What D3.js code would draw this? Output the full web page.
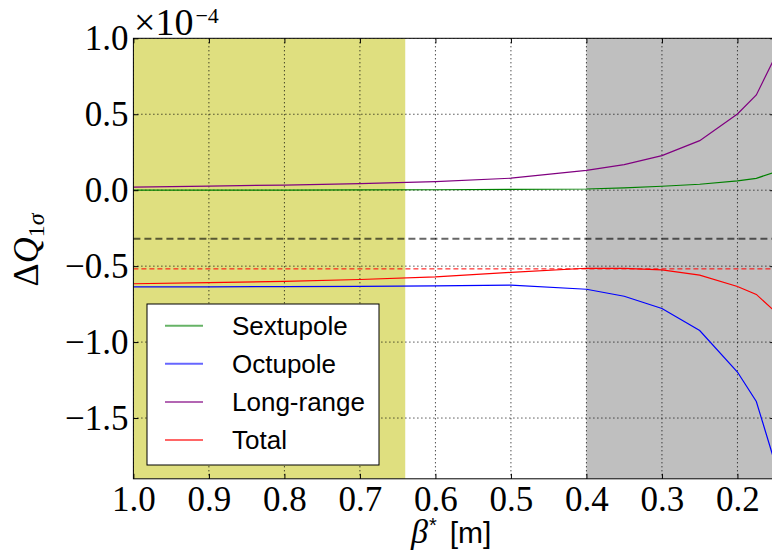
<!DOCTYPE html>
<html><head><meta charset="utf-8">
<script src="https://cdn.jsdelivr.net/npm/d3@7"></script>
<style>body{margin:0;background:#fff}svg{display:block}</style>
</head><body><svg id="c" width="772" height="559"></svg>
<script>
// ---- data (units of 1e-4) ----
const betaStar   = [1.0, 0.9, 0.8, 0.7, 0.6, 0.5, 0.4, 0.35, 0.3, 0.25, 0.2, 0.175, 0.15];
const sextupole  = [0.0, 0.0, 0.001, 0.002, 0.003, 0.005, 0.008, 0.015, 0.026, 0.039, 0.061, 0.078, 0.12];
const octupole   = [-0.636, -0.636, -0.635, -0.633, -0.630, -0.625, -0.652, -0.698, -0.779, -0.924, -1.197, -1.391, -1.80];
const longRange  = [0.020, 0.027, 0.034, 0.043, 0.056, 0.079, 0.130, 0.168, 0.228, 0.326, 0.502, 0.627, 0.88];
const total      = [-0.616, -0.609, -0.600, -0.588, -0.571, -0.541, -0.514, -0.515, -0.525, -0.559, -0.634, -0.686, -0.80];
const seriesNames  = ["Sextupole", "Octupole", "Long-range", "Total"];
const seriesColors = ["#008000", "#0000ff", "#800080", "#ff0000"];
const xTicks = [1.0, 0.9, 0.8, 0.7, 0.6, 0.5, 0.4, 0.3, 0.2];
const yTicks = [1.0, 0.5, 0.0, -0.5, -1.0, -1.5];
const xDomain = [1.0, 0.15];
const yDomain = [-1.9, 1.0];
const yellowSpan = [1.0, 0.64];
const greySpan = [0.4, 0.15];
const greyLimit = -0.32;
const redLimit = -0.518;

// ---- layout ----
const svg = d3.select("#c");
const L = 133.4, T = 38.3, R = 775.2, B = 478.8;
const x = d3.scaleLinear().domain(xDomain).range([L, R]);
const y = d3.scaleLinear().domain(yDomain).range([B, T]);
const serif = "'Liberation Serif', 'DejaVu Serif', serif";
const sans = "'Liberation Sans', Arial, sans-serif";

svg.append("defs").append("clipPath").attr("id", "clip")
  .append("rect").attr("x", L).attr("y", T).attr("width", R - L).attr("height", B - T);
const plot = svg.append("g").attr("clip-path", "url(#clip)");

// shaded spans
plot.append("rect").attr("x", x(yellowSpan[0])).attr("y", T)
  .attr("width", x(yellowSpan[1]) - x(yellowSpan[0])).attr("height", B - T)
  .attr("fill", "#bfbf00").attr("fill-opacity", 0.5);
plot.append("rect").attr("x", x(greySpan[0])).attr("y", T)
  .attr("width", x(greySpan[1]) - x(greySpan[0])).attr("height", B - T)
  .attr("fill", "#808080").attr("fill-opacity", 0.5);

// grid
plot.selectAll(".gx").data(xTicks).join("line")
  .attr("x1", d => x(d)).attr("x2", d => x(d)).attr("y1", T).attr("y2", B)
  .attr("stroke", "#000").attr("stroke-width", 1).attr("stroke-dasharray", "1,3");
plot.selectAll(".gy").data(yTicks).join("line")
  .attr("x1", L).attr("x2", R).attr("y1", d => y(d)).attr("y2", d => y(d))
  .attr("stroke", "#000").attr("stroke-width", 1).attr("stroke-dasharray", "1,3");

// limit lines
plot.append("line").attr("x1", L).attr("x2", R).attr("y1", y(greyLimit)).attr("y2", y(greyLimit))
  .attr("stroke", "#000").attr("stroke-opacity", 0.6).attr("stroke-width", 2).attr("stroke-dasharray", "7,4");
plot.append("line").attr("x1", L).attr("x2", R).attr("y1", y(redLimit)).attr("y2", y(redLimit))
  .attr("stroke", "#ff0000").attr("stroke-width", 1).attr("stroke-dasharray", "5,3");

// series
const allSeries = [sextupole, octupole, longRange, total];
const line = d3.line().x((d, i) => x(betaStar[i])).y(d => y(d));
allSeries.forEach((s, k) => {
  plot.append("path").datum(s).attr("d", line).attr("fill", "none")
    .attr("stroke", seriesColors[k]).attr("stroke-width", 1.2);
});

// border
svg.append("rect").attr("x", L).attr("y", T).attr("width", R - L).attr("height", B - T)
  .attr("fill", "none").attr("stroke", "#000").attr("stroke-width", 1);

// axes
const fmt = d3.format(".1f");
const xAxis = svg.append("g").attr("transform", `translate(0,${B})`)
  .call(d3.axisBottom(x).tickValues(xTicks).tickFormat(fmt).tickSizeInner(-5).tickSizeOuter(0).tickPadding(7));
const xTop = svg.append("g").attr("transform", `translate(0,${T})`)
  .call(d3.axisTop(x).tickValues(xTicks).tickFormat("").tickSizeInner(-5).tickSizeOuter(0));
const yAxis = svg.append("g").attr("transform", `translate(${L},0)`)
  .call(d3.axisLeft(y).tickValues(yTicks).tickFormat(fmt).tickSizeInner(-5).tickSizeOuter(0).tickPadding(5));
const yRight = svg.append("g").attr("transform", `translate(${R},0)`)
  .call(d3.axisRight(y).tickValues(yTicks).tickFormat("").tickSizeInner(-5).tickSizeOuter(0));
[xAxis, xTop, yAxis, yRight].forEach(g => {
  g.select(".domain").remove();
  g.selectAll("line").attr("stroke", "#000");
  g.selectAll("text").attr("font-family", serif).attr("font-size", 35).attr("fill", "#000");
});

// offset text
const off = svg.append("text").attr("x", 134).attr("y", 35).attr("font-family", serif)
  .attr("font-size", 38).attr("fill", "#000");
off.append("tspan").text("×10");
off.append("tspan").attr("font-size", 22).attr("dx", 2).attr("dy", -12).text("−4");

// y label
const yl = svg.append("text").attr("transform", "translate(38,250) rotate(-90)")
  .attr("text-anchor", "middle").attr("font-family", serif).attr("font-size", 36).attr("fill", "#000");
yl.append("tspan").text("Δ");
yl.append("tspan").attr("font-style", "italic").text("Q");
yl.append("tspan").attr("font-size", 24).attr("dy", 6).text("1");
yl.append("tspan").attr("font-size", 24).attr("font-style", "italic").text("σ");

// x label
const xl = svg.append("text").attr("x", 411).attr("y", 543).attr("fill", "#000");
xl.append("tspan").attr("font-family", serif).attr("font-style", "italic").attr("font-size", 34).text("β");
xl.append("tspan").attr("font-family", sans).attr("font-size", 20).attr("dx", 1).attr("dy", -11).text("*");
xl.append("tspan").attr("font-family", sans).attr("font-size", 30).attr("dx", 13).attr("dy", 11).text("[m]");

// legend
const lg = svg.append("g");
lg.append("rect").attr("x", 147).attr("y", 304).attr("width", 232).attr("height", 161)
  .attr("fill", "#fff").attr("stroke", "#000").attr("stroke-width", 1);
seriesNames.forEach((n, k) => {
  const cy = 325.7 + k * 38.1;
  lg.append("line").attr("x1", 165).attr("x2", 203).attr("y1", cy).attr("y2", cy)
    .attr("stroke", seriesColors[k]).attr("stroke-width", 2).attr("stroke-opacity", 0.6);
  lg.append("text").attr("x", 232).attr("y", cy).attr("dy", "0.35em")
    .attr("font-family", sans).attr("font-size", 26).attr("fill", "#000").text(n);
});
</script></body></html>
